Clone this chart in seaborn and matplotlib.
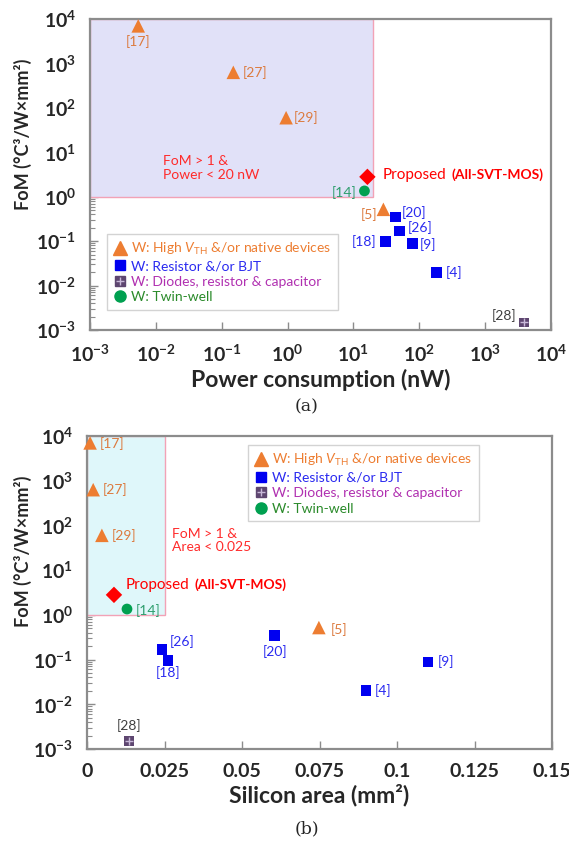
import numpy as np
import pandas as pd
import matplotlib
matplotlib.use("Agg")
import matplotlib.pyplot as plt
import matplotlib.patches as mpatches
from matplotlib.ticker import LogLocator, NullLocator, NullFormatter
from matplotlib.legend_handler import HandlerTuple
import seaborn as sns

# ---- data ----------------------------------------------------------------
refs = ["[17]", "[27]", "[29]", "[14]", "[5]", "[20]", "[26]", "[18]", "[9]", "[4]", "[28]"]
power_nw = [0.0054, 0.15, 0.95, 14.7, 28.5, 43, 50, 30.5, 78, 182, 3900]
area_mm2 = [0.001, 0.002, 0.0048, 0.0129, 0.0748, 0.0606, 0.0242, 0.0261, 0.110, 0.090, 0.0135]
fom = [7000, 630, 60, 1.35, 0.52, 0.35, 0.17, 0.097, 0.088, 0.020, 0.0015]
group = ["hvt", "hvt", "hvt", "tw", "hvt", "rb", "rb", "rb", "rb", "rb", "drc"]

proposed_power = [16.3]
proposed_area = [0.0087]
proposed_fom = [2.8]

power_exp = [-3, -2, -1, 0, 1, 2, 3, 4]
fom_exp = [-3, -2, -1, 0, 1, 2, 3, 4]
area_ticks = [0, 0.025, 0.05, 0.075, 0.1, 0.125, 0.15]
area_labels = ["0", "0.025", "0.05", "0.075", "0.1", "0.125", "0.15"]

legend_labels = {
    "hvt": r"W: High $V_{\mathrm{TH}}$ &/or native devices",
    "rb": "W: Resistor &/or BJT",
    "drc": "W: Diodes, resistor & capacitor",
    "tw": "W: Twin-well",
}

df = pd.DataFrame({"ref": refs, "power": power_nw, "area": area_mm2,
                   "fom": fom, "group": group})
prop_df = pd.DataFrame({"power": proposed_power, "area": proposed_area,
                        "fom": proposed_fom})

# ---- style ---------------------------------------------------------------
sns.set_style("ticks")
plt.rcParams["font.family"] = ["Lato", "DejaVu Sans"]
plt.rcParams["mathtext.fontset"] = "custom"
plt.rcParams["mathtext.rm"] = "Lato"
plt.rcParams["mathtext.it"] = "Lato:italic"
plt.rcParams["mathtext.bf"] = "Lato:bold"

ORANGE = "#ED7D31"
ORANGE_TXT = "#DC7A3E"
BLUE = "#0000F0"
BLUE_TXT = "#2A2AF0"
PURPLE = "#5E4670"
PURPLE_TXT = "#B030B0"
GREEN = "#00A050"
GREEN_TXT = "#2E9E6E"
LEG_GREEN = "#2A8A2A"
RED = "#FF0000"
SPINE = "#8C8C8C"

markers = {"hvt": "^", "rb": "s", "drc": "s", "tw": "o"}
mcolors = {"hvt": ORANGE, "rb": BLUE, "drc": PURPLE, "tw": GREEN}
msizes = {"hvt": 95, "rb": 60, "drc": 45, "tw": 60}
tcolors = {"hvt": ORANGE_TXT, "rb": BLUE_TXT, "drc": "#404040", "tw": GREEN_TXT}
leg_colors = {"hvt": ORANGE, "rb": BLUE_TXT, "drc": PURPLE_TXT, "tw": LEG_GREEN}

# label offsets in pixels (dx, dy) and horizontal alignment
off_power = {
    "[17]": (0, -16, "center"), "[27]": (9, 0, "left"), "[29]": (8, 0, "left"),
    "[14]": (-8, -2, "right"), "[5]": (-6, -5, "right"), "[20]": (7, 4, "left"),
    "[26]": (8, 3, "left"), "[18]": (-9, 0, "right"), "[9]": (8, -1, "left"),
    "[4]": (9, 0, "left"), "[28]": (-8, 7, "right"),
}
off_area = {
    "[17]": (10, -1, "left"), "[27]": (10, 0, "left"), "[29]": (10, 0, "left"),
    "[14]": (9, -2, "left"), "[5]": (12, -2, "left"), "[20]": (0, -16, "center"),
    "[26]": (8, 8, "left"), "[18]": (0, -12, "center"), "[9]": (10, 0, "left"),
    "[4]": (9, 0, "left"), "[28]": (0, 16, "center"),
}

W, H = 569, 842
fig = plt.figure(figsize=(W / 100, H / 100), dpi=100)
ax1 = fig.add_axes([90 / W, 1 - 330 / H, 461 / W, 311 / H])
ax2 = fig.add_axes([87 / W, 1 - 749 / H, 465 / W, 313 / H])


def draw_points(ax, xcol, offsets):
    for g in ["hvt", "rb", "drc", "tw"]:
        sub = df[df["group"] == g]
        sns.scatterplot(data=sub, x=xcol, y="fom", marker=markers[g],
                        color=mcolors[g], s=msizes[g], edgecolor="none",
                        linewidth=0, ax=ax, zorder=5, clip_on=False, legend=False)
        if g == "drc":
            ax.scatter(sub[xcol], sub["fom"], marker="+", s=30, color="#C8B8D8",
                       linewidths=1.0, zorder=6, clip_on=False)
        for _, r in sub.iterrows():
            dx, dy, ha = offsets[r["ref"]]
            ax.annotate(r["ref"], (r[xcol], r["fom"]), xytext=(dx, dy),
                        textcoords="offset pixels", ha=ha, va="center",
                        fontsize=10, color=tcolors[g], zorder=7)
    sns.scatterplot(data=prop_df, x=xcol, y="fom", marker="D", color=RED, s=70,
                    edgecolor="none", linewidth=0, ax=ax, zorder=8, legend=False)


def make_legend(ax, **kw):
    h_hvt = plt.Line2D([], [], marker="^", color=ORANGE, ls="none", ms=10.5)
    h_rb = plt.Line2D([], [], marker="s", color=BLUE, ls="none", ms=7.5)
    h_drc = (plt.Line2D([], [], marker="s", color=PURPLE, ls="none", ms=7.5),
             plt.Line2D([], [], marker="+", color="#C8B8D8", ls="none", ms=6, mew=1.0))
    h_tw = plt.Line2D([], [], marker="o", color=GREEN, ls="none", ms=8)
    leg = ax.legend([h_hvt, h_rb, h_drc, h_tw],
                    [legend_labels[k] for k in ["hvt", "rb", "drc", "tw"]],
                    handler_map={tuple: HandlerTuple(ndivide=1)},
                    fontsize=10, frameon=True, fancybox=False, handlelength=0.9,
                    handletextpad=0.3, borderpad=0.5, labelspacing=0.25,
                    borderaxespad=0, **kw)
    leg.get_frame().set_edgecolor("#C8C8C8")
    leg.get_frame().set_linewidth(1.0)
    for t, k in zip(leg.get_texts(), ["hvt", "rb", "drc", "tw"]):
        t.set_color(leg_colors[k])
    leg.set_zorder(3)
    return leg


def style_axes(ax, label_x):
    for s in ax.spines.values():
        s.set_color(SPINE)
        s.set_linewidth(1.6)
    ax.set_yscale("log")
    ax.set_ylim(1e-3, 1e4)
    ax.set_yticks([10.0 ** e for e in fom_exp],
                  [r"$\mathdefault{10^{%d}}$" % e for e in fom_exp],
                  fontsize=14, fontweight="bold")
    ax.yaxis.set_minor_locator(LogLocator(base=10, subs=np.arange(2, 10)))
    ax.yaxis.set_minor_formatter(NullFormatter())
    ax.tick_params(axis="both", which="major", direction="in", length=6,
                   width=1.0, color=SPINE, pad=10)
    ax.tick_params(axis="y", which="minor", direction="in", length=3.5,
                   width=0.8, color=SPINE)
    ax.tick_params(axis="x", which="both", top=False)
    ax.tick_params(axis="y", which="both", right=False)
    ax.set_ylabel("FoM (°C³/W×mm²)", fontsize=13, fontweight="bold")
    ax.yaxis.set_label_coords(label_x, 0.63)


# ---- panel (a): power --------------------------------------------------------
style_axes(ax1, -0.126)
ax1.set_xscale("log")
ax1.set_xlim(1e-3, 1e4)
ax1.set_xticks([10.0 ** e for e in power_exp],
               [r"$\mathdefault{10^{%d}}$" % e for e in power_exp],
               fontsize=14, fontweight="bold")
ax1.xaxis.set_minor_locator(NullLocator())
ax1.add_patch(mpatches.Rectangle((1e-3, 1), 20 - 1e-3, 1e4 - 1,
                                 facecolor="#E1E1F8", edgecolor="#F2A2B6",
                                 linewidth=1.0, zorder=1))
draw_points(ax1, "power", off_power)
ax1.set_xlabel("Power consumption (nW)", fontsize=16.5, fontweight="bold", labelpad=3)
ax1.text(0.013, 10 ** 0.93, "FoM > 1 &\nPower < 20 nW", color="#FF2A2A",
         fontsize=10, ha="left", va="top", linespacing=1.15, zorder=7)
ax1.annotate("Proposed", (proposed_power[0], proposed_fom[0]), xytext=(15, 2),
             textcoords="offset pixels", ha="left", va="center", fontsize=11,
             color=RED, zorder=9)
ax1.annotate("(All-SVT-MOS)", (proposed_power[0], proposed_fom[0]), xytext=(84, 2),
             textcoords="offset pixels", ha="left", va="center", fontsize=10,
             fontweight="bold", color=RED, zorder=9)
make_legend(ax1, loc="lower left", bbox_to_anchor=(0.037, 0.064))

# ---- panel (b): area ---------------------------------------------------------
style_axes(ax2, -0.118)
ax2.set_xlim(0, 0.15)
ax2.set_xticks(area_ticks, area_labels, fontsize=14, fontweight="bold")
ax2.xaxis.set_minor_locator(NullLocator())
ax2.add_patch(mpatches.Rectangle((0, 1), 0.025, 1e4 - 1,
                                 facecolor="#DFF7FA", edgecolor="#F2A2B6",
                                 linewidth=1.0, zorder=1))
draw_points(ax2, "area", off_area)
ax2.set_xlabel("Silicon area (mm²)", fontsize=16.5, fontweight="bold", labelpad=3)
ax2.text(0.0275, 10 ** 1.95, "FoM > 1 &\nArea < 0.025", color="#FF2A2A",
         fontsize=10, ha="left", va="top", linespacing=1.15, zorder=7)
ax2.annotate("Proposed", (proposed_area[0], proposed_fom[0]), xytext=(12, 10),
             textcoords="offset pixels", ha="left", va="center", fontsize=11,
             color=RED, zorder=9)
ax2.annotate("(All-SVT-MOS)", (proposed_area[0], proposed_fom[0]), xytext=(81, 10),
             textcoords="offset pixels", ha="left", va="center", fontsize=10,
             fontweight="bold", color=RED, zorder=9)
make_legend(ax2, loc="upper left", bbox_to_anchor=(0.346, 0.971))

# panel captions
fig.text(307 / W, 1 - 407 / H, "(a)", family="DejaVu Serif", fontsize=12.5,
         ha="center", va="center")
fig.text(307 / W, 1 - 829 / H, "(b)", family="DejaVu Serif", fontsize=12.5,
         ha="center", va="center")

fig.savefig("out.png", dpi=100)
